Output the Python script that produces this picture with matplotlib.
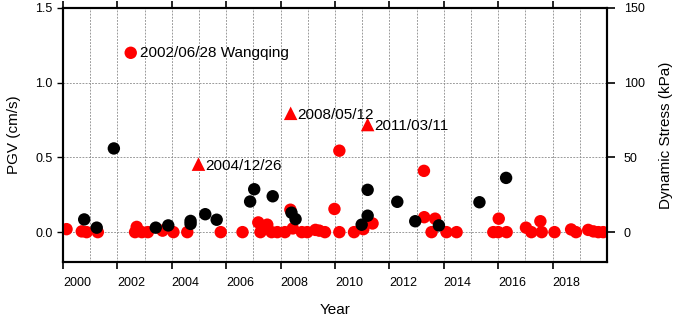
import matplotlib
matplotlib.use("Agg")
import matplotlib.pyplot as plt
import numpy as np

plt.rcParams['font.family'] = ['Liberation Sans', 'DejaVu Sans']

# Red circles: PGV (cm/s)
red_year = [2000.13, 2000.69, 2000.87, 2001.28, 2002.65, 2002.71, 2002.90, 2003.12,
            2003.66, 2004.06, 2004.57, 2005.80, 2006.60, 2007.18, 2007.26, 2007.51,
            2007.67, 2007.88, 2008.16, 2008.36, 2008.45, 2008.78, 2008.98, 2009.28,
            2009.42, 2009.63, 2009.98, 2010.16, 2010.16, 2010.70, 2011.04, 2011.38,
            2013.27, 2013.28, 2013.55, 2013.68, 2014.10, 2014.47, 2015.82, 2016.02,
            2016.00, 2016.31, 2017.02, 2017.22, 2017.55, 2017.60, 2018.07, 2018.68,
            2018.86, 2019.31, 2019.50, 2019.68, 2019.86, 2002.49]
red_pgv = [0.020, 0.005, 0.000, 0.000, 0.000, 0.035, 0.000, 0.000,
           0.010, 0.000, 0.000, 0.000, 0.000, 0.065, 0.000, 0.050,
           0.000, 0.000, 0.000, 0.150, 0.025, 0.000, 0.000, 0.015,
           0.010, 0.000, 0.155, 0.545, 0.000, 0.000, 0.020, 0.058,
           0.410, 0.100, 0.000, 0.090, 0.000, 0.000, 0.000, 0.090,
           0.000, 0.000, 0.030, 0.000, 0.073, 0.000, 0.000, 0.018,
           0.000, 0.015, 0.005, 0.000, 0.000, 1.200]

# Red triangles: large teleseismic events, PGV (cm/s)
tri_year = [2004.98, 2008.37, 2011.20]
tri_pgv = [0.455, 0.795, 0.720]
tri_labels = ["2004/12/26", "2008/05/12", "2011/03/11"]

# Wangqing event label
wq_year = 2002.49
wq_pgv = 1.20
wq_label = "2002/06/28 Wangqing"

# Black circles: dynamic stress (kPa)
blk_year = [2000.78, 2001.24, 2001.87, 2003.41, 2003.87, 2004.69, 2004.69, 2005.23,
            2005.65, 2006.88, 2007.03, 2007.71, 2008.40, 2008.55, 2010.98, 2011.20,
            2011.20, 2012.29, 2012.95, 2013.82, 2015.31, 2016.29]
blk_kpa = [8.5, 3.0, 56.0, 3.0, 4.5, 7.5, 5.5, 12.0,
           8.3, 20.5, 28.7, 24.0, 13.0, 8.7, 5.0, 11.0,
           28.3, 20.3, 7.3, 4.5, 20.0, 36.3]

xticks = list(range(2000, 2019, 2))
yticks_left = [0.0, 0.5, 1.0, 1.5]
yticks_right = [0, 50, 100, 150]

fig = plt.figure(figsize=(6.78, 3.18), dpi=100)
ax = fig.add_axes([0.0929, 0.176, 0.8024, 0.799])

grid_kw = dict(color='#8a8a8a', linestyle=(0, (2.2, 1.6)), linewidth=0.6)
ax.set_xlim(2000, 2020)
ax.set_ylim(-0.2, 1.5)
ax.set_xticks(xticks)
ax.set_xticks(range(2000, 2021), minor=True)
ax.set_yticks(yticks_left)
ax.set_yticklabels([f"{v:.1f}" for v in yticks_left])
ax.grid(True, which='both', axis='x', **grid_kw)
ax.grid(True, which='major', axis='y', **grid_kw)
ax.set_axisbelow(True)

ax.scatter(red_year, red_pgv, s=80, c='#ff0000', edgecolors='none', zorder=3)
ax.scatter(tri_year, tri_pgv, s=95, marker='^', c='#ff0000', edgecolors='none', zorder=3)

for x, y, t in zip(tri_year, tri_pgv, tri_labels):
    ax.annotate(t, (x, y), xytext=(5, -1), textcoords='offset points',
                va='center', ha='left', fontsize=11)
ax.annotate(wq_label, (wq_year, wq_pgv), xytext=(6.5, 0), textcoords='offset points',
            va='center', ha='left', fontsize=11)

ax.tick_params(axis='x', which='major', direction='out', length=5, width=1.2,
               top=True, labelsize=9, pad=6)
ax.tick_params(axis='x', which='minor', length=0)
ax.tick_params(axis='y', direction='out', length=4, width=1.0, labelsize=9)
for lab in ax.get_xticklabels():
    lab.set_horizontalalignment('left')

ax.set_xlabel("Year", fontsize=11, labelpad=10)
ax.set_ylabel("PGV (cm/s)", fontsize=11, labelpad=10)

ax2 = ax.twinx()
ax2.set_ylim(-20, 150)
ax2.set_yticks(yticks_right)
ax2.scatter(blk_year, blk_kpa, s=80, c='black', edgecolors='none', zorder=4)
ax2.tick_params(axis='y', direction='out', length=6, width=1.2, labelsize=9, pad=6)
ax2.set_ylabel("Dynamic Stress (kPa)", fontsize=11, labelpad=10)

for a in (ax, ax2):
    for s in a.spines.values():
        s.set_linewidth(1.5)

fig.savefig("out.png", dpi=100)
